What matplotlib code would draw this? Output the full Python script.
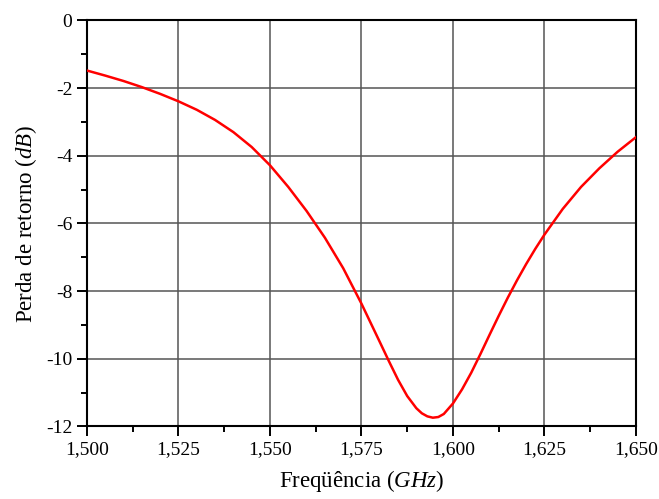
import matplotlib
matplotlib.use("Agg")
import matplotlib.pyplot as plt
from matplotlib.ticker import FuncFormatter, MultipleLocator

# Values
freq_ghz = [1.500, 1.505, 1.510, 1.515, 1.520, 1.525, 1.530, 1.535, 1.540,
            1.545, 1.550, 1.555, 1.560, 1.565, 1.570, 1.575, 1.580, 1.5825,
            1.585, 1.5875, 1.590, 1.5915, 1.593, 1.5945, 1.596, 1.5975,
            1.600, 1.6025, 1.605, 1.6075, 1.610, 1.6125, 1.615, 1.6175,
            1.620, 1.6225, 1.625, 1.630, 1.635, 1.640, 1.645, 1.650]
return_loss_db = [-1.48, -1.63, -1.79, -1.97, -2.17, -2.39, -2.64, -2.94, -3.30,
                  -3.74, -4.28, -4.92, -5.63, -6.42, -7.32, -8.37, -9.50, -10.07,
                  -10.62, -11.10, -11.46, -11.61, -11.70, -11.74, -11.72, -11.63,
                  -11.32, -10.90, -10.41, -9.86, -9.29, -8.73, -8.19, -7.68,
                  -7.20, -6.75, -6.33, -5.57, -4.92, -4.37, -3.88, -3.45]

plt.rcParams["font.family"] = ["Liberation Serif", "DejaVu Serif"]
plt.rcParams["mathtext.fontset"] = "custom"
plt.rcParams["mathtext.rm"] = "Liberation Serif"
plt.rcParams["mathtext.it"] = "Liberation Serif:italic"
plt.rcParams["axes.unicode_minus"] = False

fig = plt.figure(figsize=(6.59, 4.99), dpi=100)
ax = fig.add_axes([0.132, 0.1453, 0.833, 0.8137])

ax.plot(freq_ghz, return_loss_db, color="red", lw=1.8, zorder=3,
        solid_joinstyle="round")

ax.set_xlim(1.500, 1.650)
ax.set_ylim(-12, 0)
ax.xaxis.set_major_locator(MultipleLocator(0.025))
ax.xaxis.set_minor_locator(MultipleLocator(0.0125))
ax.yaxis.set_major_locator(MultipleLocator(2))
ax.yaxis.set_minor_locator(MultipleLocator(1))
ax.xaxis.set_major_formatter(FuncFormatter(lambda v, p: f"{v:.3f}".replace(".", ",")))
ax.yaxis.set_major_formatter(FuncFormatter(lambda v, p: f"{v:.0f}"))

ax.grid(True, which="major", color="#555555", lw=1.1)
ax.tick_params(which="both", direction="out", top=False, right=False,
               width=1.4, labelsize=14, colors="black")
ax.tick_params(which="major", length=7)
ax.tick_params(which="minor", length=4)
for s in ax.spines.values():
    s.set_linewidth(1.5)

ax.set_xlabel("Freqüência ($\\mathit{GHz}$)", fontsize=16.5, labelpad=7)
ax.set_ylabel("Perda de retorno ($\\mathit{dB}$)", fontsize=16.5, labelpad=5)

fig.savefig("out.png", dpi=100)
